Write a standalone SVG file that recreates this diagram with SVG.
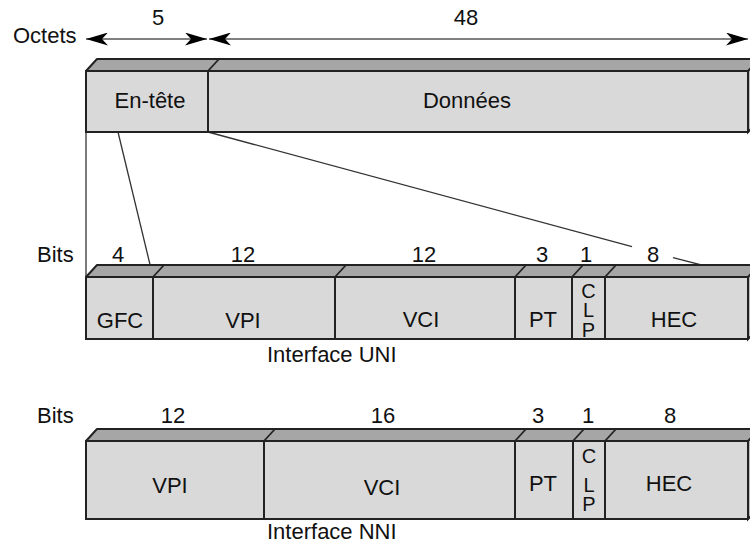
<svg xmlns="http://www.w3.org/2000/svg" width="750" height="544" viewBox="0 0 750 544">
<style>
  text { font-family: "Liberation Sans", Arial, Helvetica, sans-serif; font-size: 22px; fill: #111; }
  .mid { text-anchor: middle; }
  .clp { font-size: 20px; text-anchor: middle; }
  .front { fill: #d9d9d9; stroke: #222; stroke-width: 2; }
  .top { fill: #a6a6a6; stroke: #222; stroke-width: 2; stroke-linejoin: round; }
  .side { fill: #bcbcbc; stroke: #222; stroke-width: 2; }
  .slant { stroke: #222; stroke-width: 1.8; fill: none; }
  .link { stroke: #333; stroke-width: 1.3; fill: none; }
  .dim { stroke: #808080; stroke-width: 2; fill: none; marker-start: url(#ah); marker-end: url(#ah); }
</style>
<defs>
  <marker id="ah" viewBox="0 0 22 13" refX="22" refY="6.5" markerWidth="22" markerHeight="13" markerUnits="userSpaceOnUse" orient="auto-start-reverse">
    <path d="M0,0 L22,6.5 L0,13 L6,6.5 z" fill="#000"/>
  </marker>
</defs>

<rect width="750" height="544" fill="#fff"/>

<!-- Labels -->
<g id="labels">
  <text x="13" y="43">Octets</text>
  <text class="mid" x="158" y="25">5</text>
  <text class="mid" x="466" y="25">48</text>
  <text x="37" y="262">Bits</text>
  <text x="37" y="423">Bits</text>
  <text class="mid" x="118" y="262">4</text>
  <text class="mid" x="243" y="262">12</text>
  <text class="mid" x="424" y="262">12</text>
  <text class="mid" x="542" y="262">3</text>
  <text class="mid" x="586" y="262">1</text>
  <text class="mid" x="653" y="262">8</text>
  <text class="mid" x="173" y="423">12</text>
  <text class="mid" x="383" y="423">16</text>
  <text class="mid" x="538" y="423">3</text>
  <text class="mid" x="588" y="423">1</text>
  <text class="mid" x="670" y="423">8</text>
  <text x="267" y="362">Interface UNI</text>
  <text x="267" y="539">Interface NNI</text>
</g>

<!-- Connectors -->
<g id="connectors">
  <path class="dim" d="M86,39 H207"/>
  <path class="dim" d="M209,39 H748"/>
  <line class="link" x1="86" y1="132" x2="86" y2="277"/>
  <line class="link" x1="118" y1="132" x2="153" y2="277"/>
  <line class="link" x1="208" y1="132" x2="632" y2="246.6"/>
  <line class="link" x1="673" y1="257.7" x2="748" y2="277"/>
</g>

<!-- Cell (octets) -->
<g id="cell">
  <polygon class="top" points="86,71 97,59 762,59 750,71"/>
  <polygon class="side" points="748,71 760,59 760,120 748,132"/>
  <g id="cell-header">
    <rect class="front" x="86" y="71" width="122" height="61"/>
    <text class="mid" x="150" y="108">En-tête</text>
  </g>
  <g id="cell-data">
    <rect class="front" x="208" y="71" width="540" height="61"/>
    <line class="slant" x1="208" y1="71" x2="219" y2="59"/>
    <text class="mid" x="467" y="108">Données</text>
  </g>
</g>

<!-- UNI header -->
<g id="uni">
  <polygon class="top" points="86,277 97,265 762,265 750,277"/>
  <polygon class="side" points="748,277 760,265 760,327 748,339"/>
  <g id="uni-gfc">
    <rect class="front" x="86" y="277" width="67" height="62"/>
    <text class="mid" x="120" y="328">GFC</text>
  </g>
  <g id="uni-vpi">
    <rect class="front" x="153" y="277" width="182" height="62"/>
    <line class="slant" x1="153" y1="277" x2="164" y2="265"/>
    <text class="mid" x="243" y="328">VPI</text>
  </g>
  <g id="uni-vci">
    <rect class="front" x="335" y="277" width="180" height="62"/>
    <line class="slant" x1="335" y1="277" x2="346" y2="265"/>
    <text class="mid" x="421" y="327">VCI</text>
  </g>
  <g id="uni-pt">
    <rect class="front" x="515" y="277" width="57" height="62"/>
    <line class="slant" x1="515" y1="277" x2="526" y2="265"/>
    <text class="mid" x="543" y="327">PT</text>
  </g>
  <g id="uni-clp">
    <rect class="front" x="572" y="277" width="33" height="62"/>
    <line class="slant" x1="572" y1="277" x2="583" y2="265"/>
    <text class="clp"><tspan x="588.5" y="298">C</tspan><tspan x="588.5" y="317">L</tspan><tspan x="588.5" y="337">P</tspan></text>
  </g>
  <g id="uni-hec">
    <rect class="front" x="605" y="277" width="143" height="62"/>
    <line class="slant" x1="605" y1="277" x2="616" y2="265"/>
    <text class="mid" x="674" y="327">HEC</text>
  </g>
</g>

<!-- NNI header -->
<g id="nni">
  <polygon class="top" points="86,441 97,429 762,429 750,441"/>
  <polygon class="side" points="748,441 760,429 760,507 748,519"/>
  <g id="nni-vpi">
    <rect class="front" x="86" y="441" width="178" height="78"/>
    <text class="mid" x="170" y="493">VPI</text>
  </g>
  <g id="nni-vci">
    <rect class="front" x="264" y="441" width="251" height="78"/>
    <line class="slant" x1="264" y1="441" x2="275" y2="429"/>
    <text class="mid" x="382" y="495">VCI</text>
  </g>
  <g id="nni-pt">
    <rect class="front" x="515" y="441" width="58" height="78"/>
    <line class="slant" x1="515" y1="441" x2="526" y2="429"/>
    <text class="mid" x="543" y="491">PT</text>
  </g>
  <g id="nni-clp">
    <rect class="front" x="573" y="441" width="32" height="78"/>
    <line class="slant" x1="573" y1="441" x2="584" y2="429"/>
    <text class="clp"><tspan x="589" y="463">C</tspan><tspan x="589" y="492">L</tspan><tspan x="589" y="511">P</tspan></text>
  </g>
  <g id="nni-hec">
    <rect class="front" x="605" y="441" width="143" height="78"/>
    <line class="slant" x1="605" y1="441" x2="616" y2="429"/>
    <text class="mid" x="669" y="491">HEC</text>
  </g>
</g>
</svg>
